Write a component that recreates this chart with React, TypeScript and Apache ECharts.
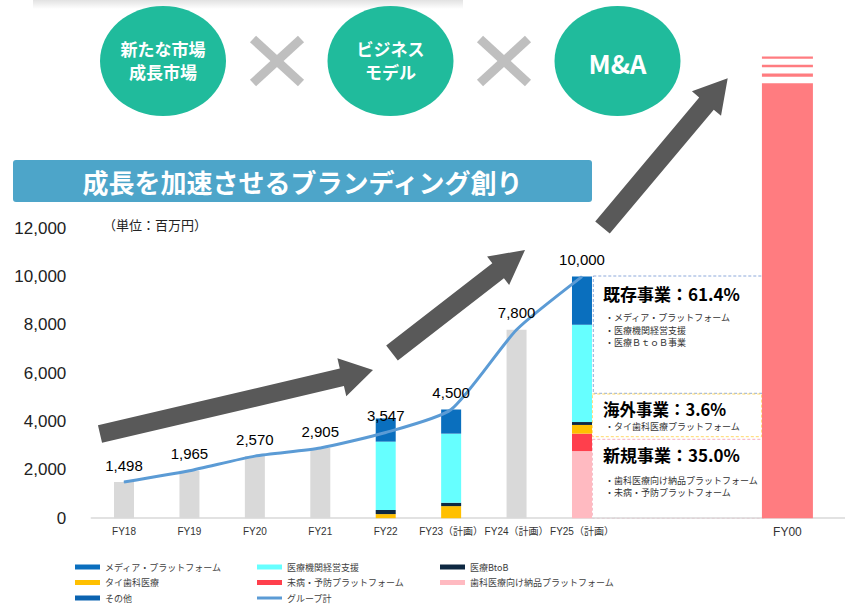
import React, { useEffect, useRef } from "react";
import * as echarts from "echarts";

// ---- data ----
const categories = ["FY18", "FY19", "FY20", "FY21", "FY22", "FY23（計画）", "FY24（計画）", "FY25（計画）"];
const groupTotal = [1498, 1965, 2570, 2905, 3547, 4500, 7800, 10000];
const actualGray = [1498, 1965, 2570, 2905, "-", "-", 7800, "-"];
const dentalSupply = ["-", "-", "-", "-", "-", "-", "-", 2780];
const preventive = ["-", "-", "-", "-", "-", "-", "-", 720];
const thaiDental = ["-", "-", "-", "-", 170, 500, "-", 360];
const medicalBtoB = ["-", "-", "-", "-", 170, 140, "-", 120];
const clinicSupport = ["-", "-", "-", "-", 2830, 2860, "-", 4030];
const mediaPlatform = ["-", "-", "-", "-", 960, 1000, "-", 1990];
const others = ["-", "-", "-", "-", "-", "-", "-", "-"];
const fy00Categories = ["", "FY00"];
const fy00Segments = [18000, 270, 140, 250, 110, 250, 90];
const yTicks = { min: 0, max: 12000, interval: 2000 };

const CJK = '"Noto Sans CJK JP", sans-serif';
const LATIN = '"Liberation Sans", Arial, "Noto Sans CJK JP", sans-serif';
const fmt = (v: number) => Number(v).toLocaleString("en-US");

function arrowPoints(sx: number, sy: number, tx: number, ty: number, w: number, hw: number, hl: number) {
  const dx = tx - sx, dy = ty - sy;
  const L = Math.hypot(dx, dy);
  const ux = dx / L, uy = dy / L;
  const nx = -uy, ny = ux;
  const bx = tx - ux * hl, by = ty - uy * hl;
  return [
    [sx + nx * w, sy + ny * w],
    [bx + nx * w, by + ny * w],
    [bx + nx * hw, by + ny * hw],
    [tx, ty],
    [bx - nx * hw, by - ny * hw],
    [bx - nx * w, by - ny * w],
    [sx - nx * w, sy - ny * w],
  ];
}

function txt(text: string, x: number, y: number, opts: any = {}) {
  const align = opts.align || "left";
  const style: any = {
    text,
    x,
    y,
    fill: opts.fill || "#000",
    fontSize: opts.fontSize || 12,
    fontWeight: opts.fontWeight || "normal",
    fontFamily: opts.fontFamily || CJK,
    align,
    verticalAlign: "middle",
    textAlign: align,
    textVerticalAlign: "middle",
  };
  return { type: "text", z: 10, style };
}

export default function App() {
  const ref = useRef<HTMLDivElement>(null);

  useEffect(() => {
    if (!ref.current) return;
    const chart = echarts.init(ref.current, undefined, { renderer: "svg" });

    const bar = (name: string, data: any[], color: string) => ({
      type: "bar",
      name,
      data,
      stack: "total",
      barWidth: 20,
      xAxisIndex: 0,
      yAxisIndex: 0,
      itemStyle: { color },
    });

    const fy00Series = fy00Segments.map((v, i) => ({
      type: "bar",
      name: "FY00-" + i,
      xAxisIndex: 1,
      yAxisIndex: 1,
      stack: "fy00",
      barWidth: 51,
      silent: true,
      data: ["-", v],
      itemStyle: { color: i % 2 === 0 ? "#ff7c80" : "rgba(0,0,0,0)" },
    }));

    const legendCommon = {
      orient: "vertical",
      top: 561,
      padding: 0,
      itemWidth: 25,
      itemHeight: 5,
      itemGap: 3.5,
      icon: "rect",
      selectedMode: false,
      textStyle: { fontSize: 9, lineHeight: 12, color: "#404040", fontFamily: CJK },
    };

    const teal = "#20bb9c";
    const crossColor = "#bfbfbf";
    const arrowColor = "#595959";
    const white = { fill: "#fff", fontSize: 17, fontWeight: "bold", align: "center" };
    const bullet = { fontSize: 9, fill: "#333" };

    const graphic: any[] = [
      {
        type: "rect",
        shape: { x: 33, y: 0, width: 430, height: 9 },
        style: {
          fill: {
            type: "linear", x: 0, y: 0, x2: 0, y2: 1,
            colorStops: [{ offset: 0, color: "#e2e2e2" }, { offset: 1, color: "#ffffff" }],
          },
        },
      },
      { type: "ellipse", shape: { cx: 163, cy: 61, rx: 63, ry: 55 }, style: { fill: teal } },
      { type: "ellipse", shape: { cx: 390.5, cy: 61, rx: 63, ry: 55 }, style: { fill: teal } },
      { type: "ellipse", shape: { cx: 617.5, cy: 61, rx: 63, ry: 55 }, style: { fill: teal } },
      { type: "line", shape: { x1: 253, y1: 39, x2: 301, y2: 83 }, style: { stroke: crossColor, lineWidth: 9 } },
      { type: "line", shape: { x1: 301, y1: 39, x2: 253, y2: 83 }, style: { stroke: crossColor, lineWidth: 9 } },
      { type: "line", shape: { x1: 480, y1: 39, x2: 528, y2: 83 }, style: { stroke: crossColor, lineWidth: 9 } },
      { type: "line", shape: { x1: 528, y1: 39, x2: 480, y2: 83 }, style: { stroke: crossColor, lineWidth: 9 } },
      txt("新たな市場", 163, 48.6, white),
      txt("成長市場", 163, 71.4, white),
      txt("ビジネス", 390.5, 48.6, white),
      txt("モデル", 390.5, 71.4, white),
      txt("M&A", 617.5, 62, { fill: "#fff", fontSize: 26, fontWeight: "bold", align: "center" }),
      { type: "rect", shape: { x: 13, y: 160, width: 579, height: 42, r: 3 }, style: { fill: "#4da5c9" } },
      txt("成長を加速させるブランディング創り", 302.5, 181, { fill: "#fff", fontSize: 26, fontWeight: "bold", align: "center" }),
      txt("（単位：百万円）", 103, 224, { fill: "#222", fontSize: 13 }),
      { type: "polygon", shape: { points: arrowPoints(100, 434, 373, 370, 9, 19.5, 32) }, style: { fill: arrowColor } },
      { type: "polygon", shape: { points: arrowPoints(392, 353, 525, 250, 9.5, 18, 34) }, style: { fill: arrowColor } },
      { type: "polygon", shape: { points: arrowPoints(602.5, 227.5, 727.7, 78.3, 9.5, 19, 33) }, style: { fill: arrowColor } },
      { type: "rect", shape: { x: 593.3, y: 276, width: 170.7, height: 117.3 }, style: { fill: "rgba(0,0,0,0)", stroke: "#8eaadb", lineWidth: 1, lineDash: [3, 2] } },
      { type: "rect", shape: { x: 592.3, y: 394, width: 169.4, height: 42.7 }, style: { fill: "rgba(0,0,0,0)", stroke: "#ffd966", lineWidth: 1, lineDash: [3, 2] } },
      { type: "rect", shape: { x: 592.3, y: 439.3, width: 171.7, height: 79 }, style: { fill: "rgba(0,0,0,0)", stroke: "#f4b0c0", lineWidth: 1, lineDash: [3, 2] } },
      txt("既存事業：61.4%", 603, 293.5, { fontSize: 17, fontWeight: "bold" }),
      txt("・メディア・プラットフォーム", 605, 317.5, bullet),
      txt("・医療機関経営支援", 605, 330, bullet),
      txt("・医療ＢｔｏＢ事業", 605, 342.5, bullet),
      txt("海外事業：3.6%", 603, 409, { fontSize: 16.5, fontWeight: "bold" }),
      txt("・タイ歯科医療プラットフォーム", 605, 426.5, bullet),
      txt("新規事業：35.0%", 603, 454, { fontSize: 17, fontWeight: "bold" }),
      txt("・歯科医療向け納品プラットフォーム", 605, 480.3, bullet),
      txt("・未病・予防プラットフォーム", 605, 492.5, bullet),
    ];

    const option: any = {
      animation: false,
      textStyle: { fontFamily: LATIN },
      grid: [
        { left: 91.3, width: 523.4, top: 228.3, bottom: 97.8 },
        { left: 614.7, width: 233.7, top: 35, bottom: 97.8 },
      ],
      xAxis: [
        {
          type: "category",
          gridIndex: 0,
          data: categories,
          axisLine: { lineStyle: { color: "#d9d9d9", width: 1.5 } },
          axisTick: { show: false },
          axisLabel: { fontSize: 10, color: "#333", margin: 8, interval: 0, fontFamily: LATIN },
        },
        {
          type: "category",
          gridIndex: 1,
          data: fy00Categories,
          axisLine: { lineStyle: { color: "#d9d9d9", width: 1.5 } },
          axisTick: { show: false },
          axisLabel: { fontSize: 12, color: "#333", margin: 8, interval: 0, fontFamily: LATIN },
        },
      ],
      yAxis: [
        {
          type: "value",
          gridIndex: 0,
          min: yTicks.min,
          max: yTicks.max,
          interval: yTicks.interval,
          axisLine: { show: false },
          axisTick: { show: false },
          splitLine: { show: false },
          axisLabel: { fontSize: 17, color: "#222", margin: 25, formatter: (v: number) => fmt(v), fontFamily: LATIN },
        },
        { type: "value", gridIndex: 1, min: 0, max: 20000, show: false, splitLine: { show: false } },
      ],
      legend: [
        { ...legendCommon, left: 75, data: ["メディア・プラットフォーム", "タイ歯科医療", "その他"] },
        {
          ...legendCommon,
          left: 257,
          data: ["医療機関経営支援", "未病・予防プラットフォーム", { name: "グループ計", icon: "path://M0,0H25V3H0Z" }],
        },
        { ...legendCommon, left: 440, data: ["医療BtoB", "歯科医療向け納品プラットフォーム"] },
      ],
      series: [
        bar("実績", actualGray, "#d9d9d9"),
        bar("歯科医療向け納品プラットフォーム", dentalSupply, "#ffbac1"),
        bar("未病・予防プラットフォーム", preventive, "#ff3f4c"),
        bar("タイ歯科医療", thaiDental, "#ffc000"),
        bar("医療BtoB", medicalBtoB, "#0e2841"),
        bar("医療機関経営支援", clinicSupport, "#66ffff"),
        bar("メディア・プラットフォーム", mediaPlatform, "#0a6fbe"),
        bar("その他", others, "#0b63b0"),
        {
          type: "line",
          name: "グループ計",
          data: groupTotal,
          xAxisIndex: 0,
          yAxisIndex: 0,
          smooth: 0.2,
          symbol: "circle",
          symbolSize: 1,
          z: 5,
          lineStyle: { color: "#5b9bd5", width: 3 },
          itemStyle: { color: "#5b9bd5" },
          label: {
            show: true,
            position: "top",
            distance: 9,
            fontSize: 15,
            color: "#000",
            fontFamily: LATIN,
            formatter: (p: any) => fmt(p.value),
          },
        },
        ...fy00Series,
      ],
      graphic,
    };

    chart.setOption(option);
    return () => chart.dispose();
  }, []);

  return <div ref={ref} style={{ position: "absolute", left: 0, top: 0, width: 845, height: 616 }} />;
}
